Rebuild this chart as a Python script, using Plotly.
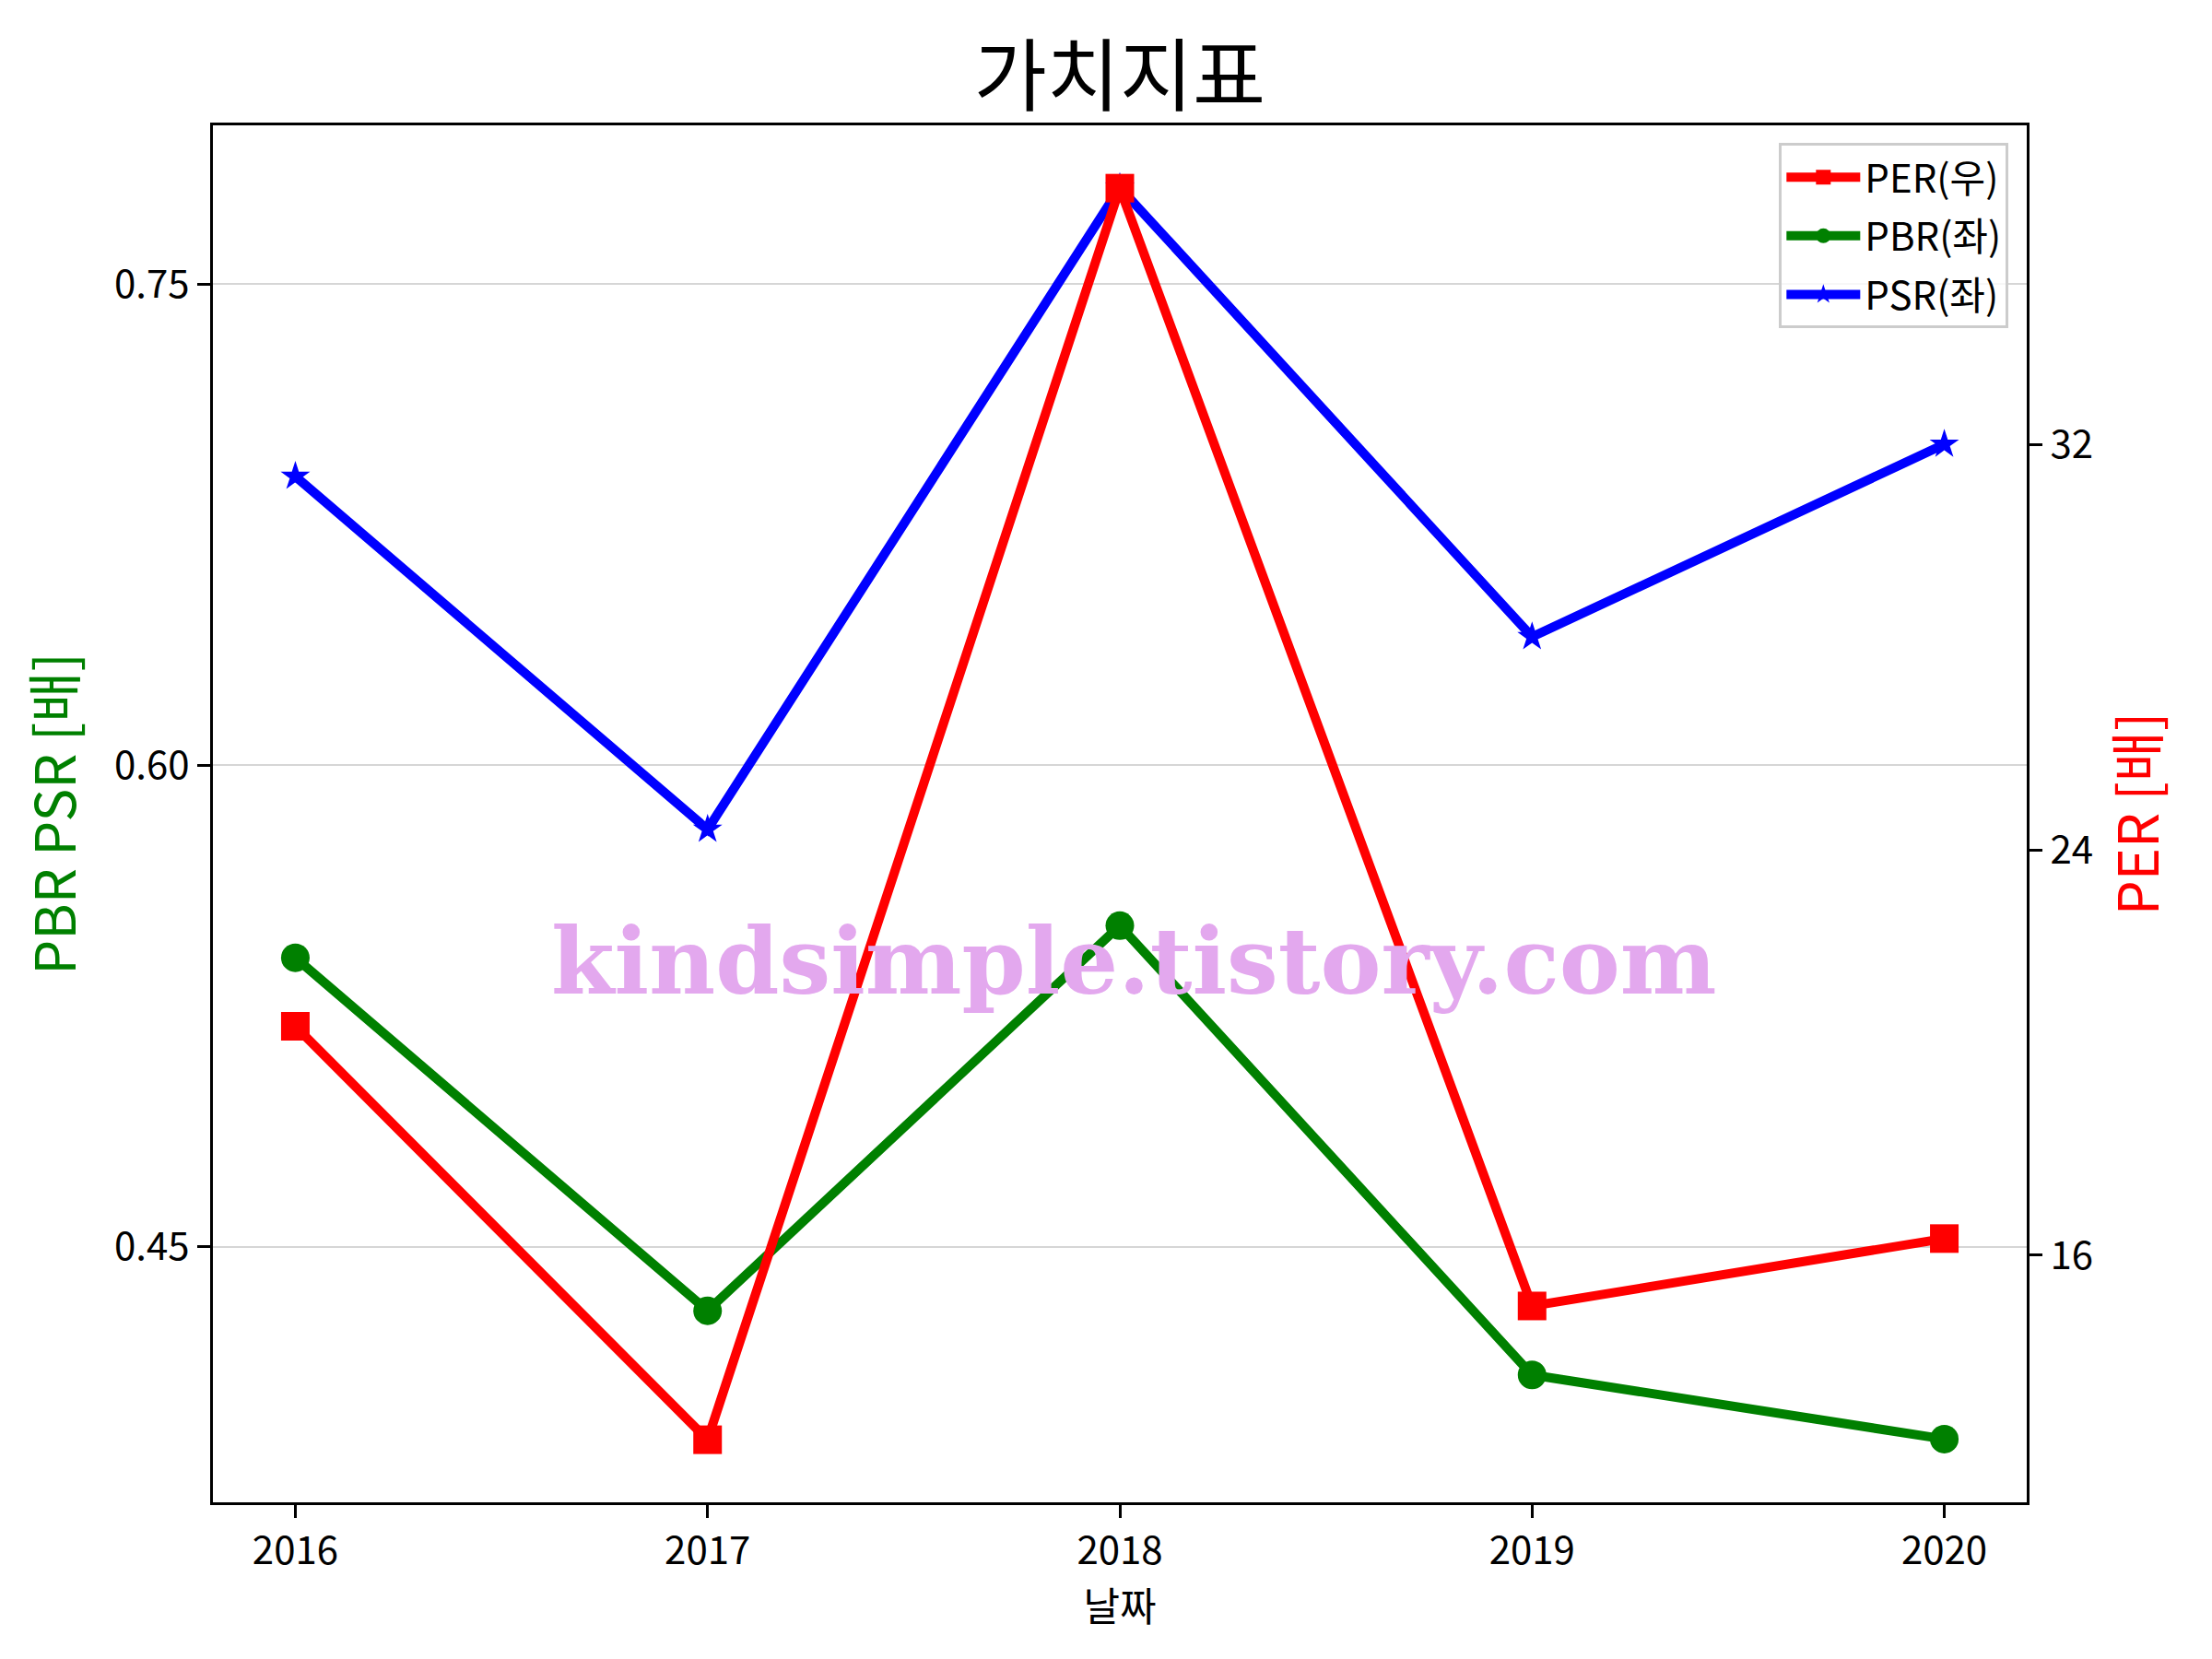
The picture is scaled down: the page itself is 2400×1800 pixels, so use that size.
import plotly.graph_objects as go

# ---- data ----
years = [2016, 2017, 2018, 2019, 2020]
per = [20.52, 12.36, 37.06, 15.00, 16.33]
pbr = [0.540, 0.430, 0.550, 0.410, 0.390]
psr = [0.690, 0.580, 0.780, 0.640, 0.700]
left_ticks = [0.45, 0.60, 0.75]
right_ticks = [16, 24, 32]
year_labels = [str(y) for y in years]

FONT = "Noto Sans CJK KR"
W, H = 2400, 1800
L, R, T, B = 231, 2199, 136, 1630

fig = go.Figure()
fig.add_trace(go.Scatter(
    x=years, y=per, name="PER(우)", yaxis="y2", mode="lines+markers",
    legendgroup="per",
    line=dict(color="#ff0000", width=10),
    marker=dict(symbol="square", size=31, color="#ff0000")))
fig.add_trace(go.Scatter(
    x=years, y=pbr, name="PBR(좌)", mode="lines+markers",
    legendgroup="pbr",
    line=dict(color="#008000", width=10),
    marker=dict(symbol="circle", size=31, color="#008000")))
fig.add_trace(go.Scatter(
    x=years, y=psr, name="PSR(좌)", mode="lines+markers",
    legendgroup="psr",
    line=dict(color="#0000ff", width=10),
    marker=dict(symbol="star", size=24, color="#0000ff")))

axis_common = dict(
    showline=True, linecolor="black", linewidth=3,
    ticks="outside", ticklen=14, tickwidth=3, tickcolor="black",
    zeroline=False, tickfont=dict(family=FONT, size=42, color="black"),
)

fig.update_layout(
    width=W, height=H,
    margin=dict(l=L, r=W - R, t=T, b=H - B, autoexpand=False),
    paper_bgcolor="white", plot_bgcolor="white",
    font=dict(family=FONT, size=42, color="black"),
    title=dict(text="가치지표", x=(L + R) / 2 / W, xanchor="center",
               y=1 - 84 / H, yanchor="middle", yref="container",
               font=dict(family=FONT, size=86, color="black")),
    xaxis=dict(range=[2015.8, 2020.2], tickvals=years, ticktext=year_labels,
               mirror=True, showgrid=False,
               title=dict(text="날짜", standoff=5,
                          font=dict(family=FONT, size=43, color="black")),
               **axis_common),
    yaxis=dict(range=[0.3703, 0.7994], tickvals=left_ticks,
               ticktext=[f"{v:.2f}" for v in left_ticks],
               showgrid=True, gridcolor="#d6d6d6", gridwidth=1.5,
               title=dict(text="PBR PSR [배]", standoff=22,
                          font=dict(family=FONT, size=60, color="#008000")),
               **axis_common),
    yaxis2=dict(range=[11.125, 38.3], tickvals=right_ticks,
                ticktext=[str(v) for v in right_ticks],
                overlaying="y", side="right", showgrid=False,
                title=dict(text="PER [배]", standoff=30,
                           font=dict(family=FONT, size=60, color="#ff0000")),
                **axis_common),
    legend=dict(x=0.99, y=0.987, xanchor="right", yanchor="top",
                bgcolor="rgba(255,255,255,0.8)", bordercolor="#cccccc",
                borderwidth=3, font=dict(family=FONT, size=42, color="black"),
                itemwidth=80, tracegroupgap=6),
    showlegend=True,
)

fig.add_annotation(
    text="<b>kindsimple.tistory.com</b>", xref="paper", yref="paper",
    x=(1230 - L) / (R - L), y=1 - (1043 - T) / (B - T),
    xanchor="center", yanchor="middle", showarrow=False,
    font=dict(family="DejaVu Serif", size=99, color="#e3a8ee"))

fig.write_html("out.html",
               config={"displayModeBar": False},
               post_script="document.body.style.margin='0';document.body.style.overflow='hidden';")
